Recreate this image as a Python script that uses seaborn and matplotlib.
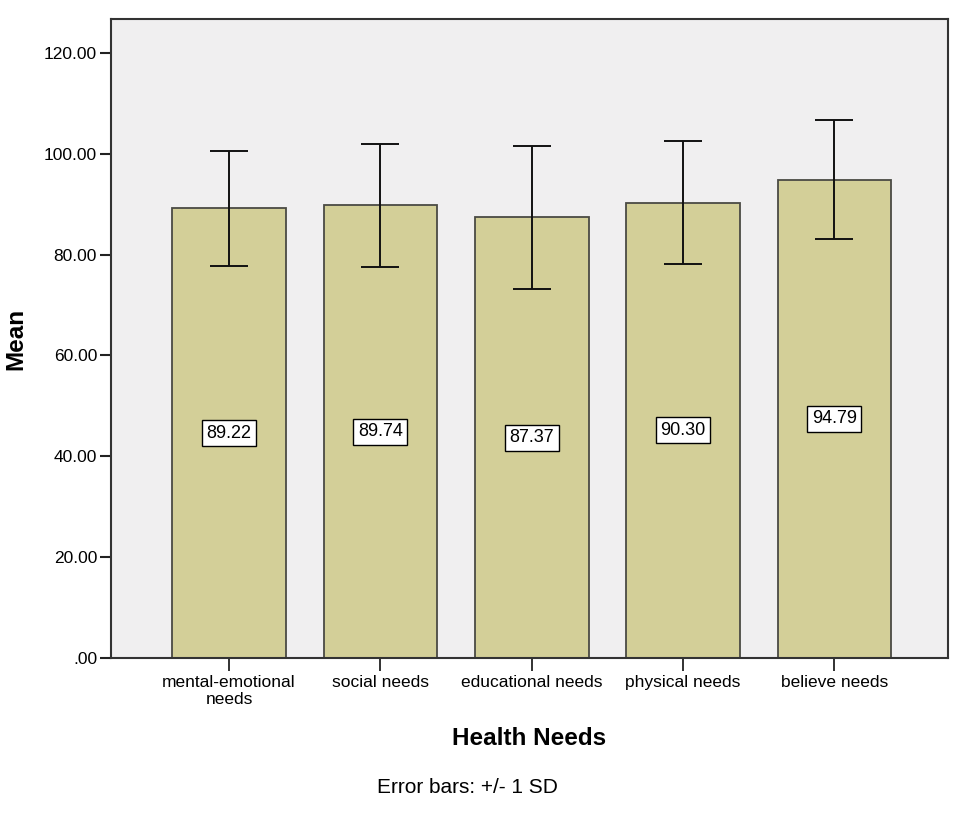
import matplotlib
matplotlib.use("Agg")
import matplotlib.pyplot as plt
import seaborn as sns
import pandas as pd

# values
needs = ["mental-emotional\nneeds", "social needs", "educational needs",
         "physical needs", "believe needs"]
means = [89.22, 89.74, 87.37, 90.30, 94.79]
sds = [11.4, 12.2, 14.2, 12.2, 11.8]
y_ticks = [0, 20, 40, 60, 80, 100, 120]
y_tick_labels = [".00", "20.00", "40.00", "60.00", "80.00", "100.00", "120.00"]

sns.set_style("white")
plt.rcParams["font.family"] = ["Liberation Sans", "DejaVu Sans"]
plt.rcParams["text.color"] = "black"
plt.rcParams["axes.labelcolor"] = "black"
plt.rcParams["xtick.color"] = "black"
plt.rcParams["ytick.color"] = "black"

df = pd.DataFrame({"need": needs, "mean": means})

fig = plt.figure(figsize=(9.6, 8.17), dpi=100)
ax = fig.add_axes([0.1156, 0.1946, 0.8719, 0.7821])
ax.set_facecolor("#f0eff0")

sns.barplot(data=df, x="need", y="mean", color="#d3cf98", saturation=1,
            width=0.75, edgecolor="#4a4a44", linewidth=1.3, errorbar=None, ax=ax)

ax.errorbar(range(len(means)), means, yerr=sds, fmt="none", ecolor="#111111",
            elinewidth=1.4, capsize=13.5, capthick=1.4, zorder=5)

for i, m in enumerate(means):
    ax.text(i, m / 2, f"{m:.2f}", ha="center", va="center", fontsize=13,
            color="black", zorder=6,
            bbox=dict(boxstyle="square,pad=0.25", facecolor="white",
                      edgecolor="black", linewidth=1.0))

ax.set_xlim(-0.78, 4.75)
ax.set_ylim(0, 126.7)
ax.set_yticks(y_ticks)
ax.set_yticklabels(y_tick_labels, fontsize=12.5)
ax.tick_params(axis="x", labelsize=12.5, length=9, width=1.3, color="#222222",
               pad=3, bottom=True)
ax.tick_params(axis="y", length=8, width=1.5, color="#222222", left=True, pad=2)

for s in ax.spines.values():
    s.set_color("#333333")
    s.set_linewidth(1.5)

ax.set_xlabel("Health Needs", fontsize=17.5, fontweight="bold", labelpad=14)
ax.set_ylabel("Mean", fontsize=17.5, fontweight="bold", labelpad=12)

fig.text(0.4865, 0.036, "Error bars: +/- 1 SD", ha="center", va="center", fontsize=15)

fig.savefig("out.png", dpi=100, facecolor="white")
plt.close(fig)
